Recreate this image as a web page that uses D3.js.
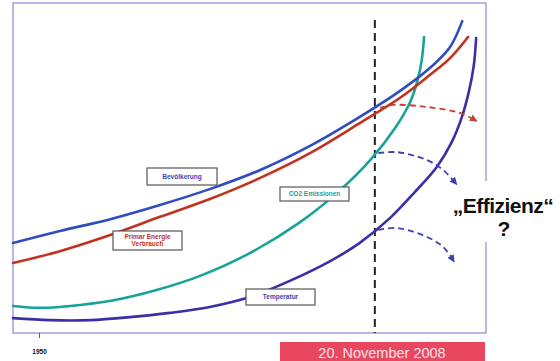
<!DOCTYPE html>
<html>
<head>
<meta charset="utf-8">
<script src="https://cdn.jsdelivr.net/npm/d3@7"></script>
<style>
  html, body { margin: 0; padding: 0; background: #fff; }
  svg { display: block; }
</style>
</head>
<body>
<svg id="chart" width="560" height="361"></svg>
<script>
// Trends (index 0–100) over time
const tickYears = [1950];
const markerYear = 2008;

const popYears = [1945.5, 1953.6, 1962.3, 1970.9, 1979.5, 1988.2, 1996.8, 2005.4, 2012.3, 2017.5, 2021.0, 2023.1];
const popValues = [27.3, 30.9, 34.5, 38.8, 43.6, 49.4, 56.7, 65.5, 73.3, 80.3, 86.7, 94.5];

const energyYears = [1945.5, 1953.6, 1962.3, 1970.9, 1979.5, 1988.2, 1996.8, 2005.4, 2012.3, 2017.5, 2021.0, 2024.1];
const energyValues = [21.2, 24.8, 29.7, 35.2, 40.6, 47.0, 54.5, 63.6, 71.2, 78.2, 83.3, 89.7];

const co2Years = [1945.5, 1950.2, 1957.1, 1964.0, 1970.9, 1977.8, 1986.4, 1995.1, 2002.0, 2007.2, 2011.5, 2014.1, 2015.4, 2016.1, 2016.5];
const co2Values = [8.2, 7.6, 8.5, 10.3, 13.3, 17.3, 24.2, 33.6, 43.3, 52.4, 62.1, 70.0, 76.7, 82.7, 89.7];

const tempYears = [1945.5, 1951.9, 1958.8, 1965.7, 1972.6, 1979.5, 1986.4, 1993.3, 2000.3, 2005.4, 2010.6, 2014.9, 2018.7, 2021.3, 2023.1, 2024.3, 2025.1, 2025.5];
const tempValues = [4.5, 3.9, 3.9, 4.8, 6.1, 7.9, 10.9, 15.8, 21.8, 27.3, 34.8, 42.7, 50.3, 57.9, 65.8, 73.6, 81.2, 89.4];

// Efficiency scenarios branching off at 2008
const energyProjYears = [2008.9, 2011.1, 2017.0, 2022.7, 2025.3];
const energyProjValues = [68.2, 69.1, 68.5, 66.7, 64.5];
const co2ProjYears = [2008.6, 2011.9, 2017.0, 2019.8, 2021.9];
const co2ProjValues = [54.5, 54.8, 52.4, 49.4, 45.5];
const tempProjYears = [2008.6, 2011.9, 2017.0, 2019.8, 2021.5];
const tempProjValues = [31.2, 31.8, 29.1, 26.1, 22.1];

const svg = d3.select("#chart");
const frame = { left: 13, top: 3, right: 486, bottom: 333 };

const x = d3.scaleLinear().domain([1945.5, 2027.2]).range([frame.left, frame.right]);
const y = d3.scaleLinear().domain([0, 100]).range([frame.bottom, frame.top]);

const zip = (xs, ys) => xs.map((v, i) => [v, ys[i]]);
const line = d3.line().x(d => x(d[0])).y(d => y(d[1])).curve(d3.curveCatmullRom.alpha(0.5));

// arrowheads
const defs = svg.append("defs");
function marker(id, color) {
  defs.append("marker")
    .attr("id", id).attr("viewBox", "0 0 10 10")
    .attr("refX", 6).attr("refY", 5)
    .attr("markerWidth", 8).attr("markerHeight", 8)
    .attr("markerUnits", "userSpaceOnUse")
    .attr("orient", "auto")
    .append("path").attr("d", "M0,0.5 L10,5 L0,9.5 Z").attr("fill", color);
}
marker("arrRed", "#c8402f");
marker("arrBlue", "#3f3fb4");

// plot frame
svg.append("rect")
  .attr("x", frame.left).attr("y", frame.top)
  .attr("width", frame.right - frame.left).attr("height", frame.bottom - frame.top)
  .attr("fill", "none").attr("stroke", "#8f86d6").attr("stroke-width", 1.2);

// white panel behind the question text, interrupting the frame
svg.append("rect").attr("x", 444).attr("y", 181).attr("width", 116).attr("height", 61).attr("fill", "#fff");

// time axis with a single tick
const axis = svg.append("g")
  .attr("transform", `translate(0,${frame.bottom})`)
  .call(d3.axisBottom(x).tickValues(tickYears).tickSize(5).tickFormat(d3.format("d")));
axis.select(".domain").remove();
axis.selectAll(".tick line").attr("stroke", "#555");
axis.selectAll(".tick text")
  .attr("dy", 0).attr("y", 21)
  .attr("font-family", "Liberation Sans, Arial, sans-serif")
  .attr("font-size", 6.5).attr("font-weight", "bold").attr("fill", "#111");

// 2008 marker
svg.append("line")
  .attr("x1", x(markerYear)).attr("x2", x(markerYear))
  .attr("y1", 20).attr("y2", frame.bottom)
  .attr("stroke", "#222").attr("stroke-width", 2).attr("stroke-dasharray", "8,5");

// series curves
const series = [
  { pts: zip(tempYears, tempValues), color: "#3b2fa6" },
  { pts: zip(co2Years, co2Values), color: "#17a29a" },
  { pts: zip(energyYears, energyValues), color: "#c0331f" },
  { pts: zip(popYears, popValues), color: "#2f4cc0" }
];
svg.selectAll("path.series").data(series).join("path")
  .attr("class", "series")
  .attr("d", d => line(d.pts))
  .attr("fill", "none").attr("stroke", d => d.color)
  .attr("stroke-width", 2.6).attr("stroke-linecap", "round");

// projection arrows
const projLine = d3.line().x(d => x(d[0])).y(d => y(d[1])).curve(d3.curveCatmullRom.alpha(0.5));
const projections = [
  { pts: zip(energyProjYears, energyProjValues), color: "#c8402f", m: "arrRed" },
  { pts: zip(co2ProjYears, co2ProjValues), color: "#3f3fb4", m: "arrBlue" },
  { pts: zip(tempProjYears, tempProjValues), color: "#3f3fb4", m: "arrBlue" }
];
svg.selectAll("path.proj").data(projections).join("path")
  .attr("class", "proj")
  .attr("d", d => projLine(d.pts))
  .attr("fill", "none").attr("stroke", d => d.color)
  .attr("stroke-width", 1.8).attr("stroke-dasharray", "6,4")
  .attr("marker-end", d => `url(#${d.m})`);

// series labels
const labels = [
  { x: 147, y: 168, w: 70, h: 17, lines: ["Bevölkerung"], color: "#3548c0" },
  { x: 113, y: 231, w: 69, h: 19, lines: ["Primar Energie", "Verbrauch"], color: "#c0331f" },
  { x: 280, y: 187, w: 69, h: 14, lines: ["CO2 Emissionen"], color: "#17a29a" },
  { x: 246, y: 289, w: 69, h: 16, lines: ["Temperatur"], color: "#3548a8" }
];
const lg = svg.selectAll("g.label").data(labels).join("g").attr("class", "label");
lg.append("rect")
  .attr("x", d => d.x).attr("y", d => d.y).attr("width", d => d.w).attr("height", d => d.h)
  .attr("fill", "#fff").attr("stroke", "#555").attr("stroke-width", 1.2);
lg.each(function(d) {
  const g = d3.select(this);
  const n = d.lines.length;
  d.lines.forEach((t, i) => {
    g.append("text")
      .attr("x", d.x + d.w / 2)
      .attr("y", d.y + d.h / 2 + (i - (n - 1) / 2) * 7 + 2.3)
      .attr("text-anchor", "middle")
      .attr("font-family", "Liberation Sans, Arial, sans-serif")
      .attr("font-size", 6.5).attr("font-weight", "bold")
      .attr("fill", d.color).text(t);
  });
});

// efficiency question
svg.append("text")
  .attr("x", 503).attr("y", 213).attr("text-anchor", "middle")
  .attr("font-family", "Liberation Sans, Arial, sans-serif")
  .attr("font-size", 21).attr("font-weight", "bold").attr("fill", "#111")
  .attr("letter-spacing", -0.5)
  .text("„Effizienz“");
svg.append("text")
  .attr("x", 504).attr("y", 236).attr("text-anchor", "middle")
  .attr("font-family", "Liberation Sans, Arial, sans-serif")
  .attr("font-size", 21).attr("font-weight", "bold").attr("fill", "#111")
  .text("?");

// date banner
svg.append("rect").attr("x", 280).attr("y", 342).attr("width", 205).attr("height", 19).attr("fill", "#e8475f");
svg.append("text")
  .attr("x", 382).attr("y", 358).attr("text-anchor", "middle")
  .attr("font-family", "Liberation Sans, Arial, sans-serif")
  .attr("font-size", 14.5).attr("fill", "#fbe3e6")
  .text("20. November 2008");
</script>
</body>
</html>
